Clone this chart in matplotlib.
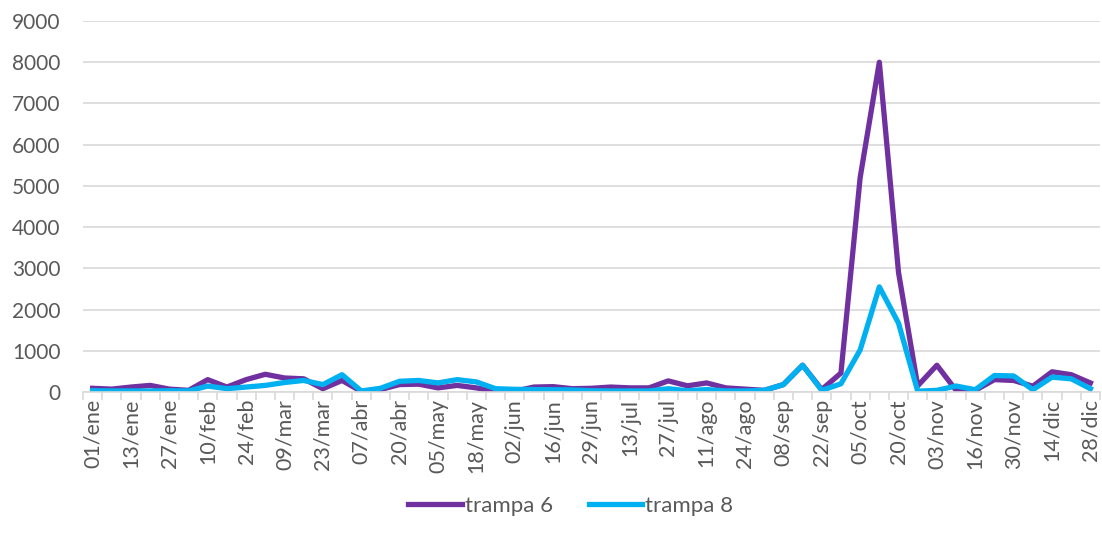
import numpy as np
import matplotlib.pyplot as plt
from matplotlib.ticker import FixedLocator

fechas = ["01/ene", "07/ene", "13/ene", "20/ene", "27/ene", "03/feb", "10/feb", "17/feb",
          "24/feb", "02/mar", "09/mar", "16/mar", "23/mar", "30/mar", "07/abr", "13/abr",
          "20/abr", "27/abr", "05/may", "11/may", "18/may", "25/may", "02/jun", "09/jun",
          "16/jun", "22/jun", "29/jun", "06/jul", "13/jul", "20/jul", "27/jul", "04/ago",
          "11/ago", "17/ago", "24/ago", "01/sep", "08/sep", "15/sep", "22/sep", "28/sep",
          "05/oct", "12/oct", "20/oct", "27/oct", "03/nov", "09/nov", "16/nov", "23/nov",
          "30/nov", "07/dic", "14/dic", "21/dic", "28/dic"]

trampa6 = [90, 70, 120, 160, 70, 40, 300, 120, 300, 430, 340, 320, 80, 280, 15, 60,
           180, 190, 100, 160, 100, 10, 20, 120, 130, 80, 90, 120, 100, 100, 270, 150,
           220, 100, 70, 40, 180, 650, 60, 460, 5200, 8000, 2900, 150, 650, 40, 40, 300,
           280, 140, 490, 420, 220]

trampa8 = [30, 25, 25, 25, 30, 25, 145, 80, 120, 160, 230, 280, 180, 420, 25, 90,
           260, 280, 220, 300, 245, 80, 65, 60, 55, 50, 30, 25, 25, 25, 80, 30,
           60, 25, 25, 40, 180, 650, 40, 200, 1020, 2550, 1670, 20, 40, 145, 55, 400,
           390, 55, 360, 320, 80]

plt.rcParams['font.family'] = ['Lato', 'DejaVu Sans']

fig = plt.figure(figsize=(11.02, 5.33), dpi=100)
ax = fig.add_axes([83 / 1102, (533 - 392) / 533, (1100 - 83) / 1102, (392 - 21) / 533])

x = np.arange(len(fechas))
ax.plot(x, trampa6, color="#7030A0", lw=3.8, label="trampa 6", solid_joinstyle="round")
ax.plot(x, trampa8, color="#00B0F0", lw=3.8, label="trampa 8", solid_joinstyle="round")

ax.set_xlim(-0.5, len(fechas) - 0.5)
ax.set_ylim(0, 9000)
ax.set_yticks(np.arange(0, 9001, 1000))
ax.yaxis.grid(True, color="#D9D9D9", lw=1.2)
ax.set_axisbelow(True)

ax.set_xticks(x[::2])
ax.set_xticklabels(fechas[::2], rotation=90)
ax.xaxis.set_minor_locator(FixedLocator(np.arange(-0.5, len(fechas), 1)))
ax.tick_params(axis="x", which="major", length=0, pad=5, labelsize=15.5, labelcolor="#595959")
ax.tick_params(axis="x", which="minor", length=6, color="#D9D9D9", width=1.2)
ax.tick_params(axis="y", length=0, pad=16, labelsize=15, labelcolor="#595959")

for s in ["top", "right", "left"]:
    ax.spines[s].set_visible(False)
ax.spines["bottom"].set_color("#D9D9D9")
ax.spines["bottom"].set_linewidth(1.2)

fig.legend(loc="lower center", bbox_to_anchor=(0.518, -0.005), ncol=2, frameon=False,
           fontsize=16, labelcolor="#595959", handlelength=2.4, handletextpad=0.15,
           columnspacing=1.6)

fig.savefig("out.png", dpi=100)
